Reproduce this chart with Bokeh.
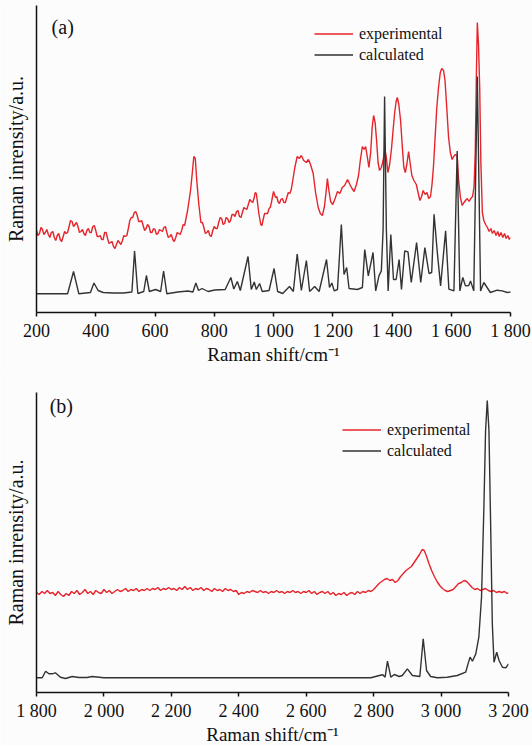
from bokeh.plotting import figure
from bokeh.layouts import column
from bokeh.models import Range1d, FixedTicker, Legend, LegendItem, Label
from bokeh.embed import file_html
from bokeh.resources import INLINE

# ---------------- data: panel (a) ----------------
exp_a = [(200, 82), (205, 77), (210, 79), (215, 85), (220, 83), (225, 78), (230, 80), (235, 83),
         (240, 78), (245, 75), (250, 80), (255, 81), (260, 75), (265, 72), (270, 77), (275, 79),
         (280, 73), (285, 71), (290, 76), (295, 81), (300, 79), (305, 80), (310, 86), (315, 92),
         (320, 91), (325, 86), (330, 88), (335, 90), (340, 86), (345, 80), (350, 81), (355, 83),
         (360, 79), (365, 77), (370, 82), (375, 84), (380, 80), (385, 80), (390, 86), (395, 87),
         (400, 82), (405, 76), (410, 76), (415, 77), (420, 73), (425, 73), (430, 80), (435, 80),
         (440, 74), (445, 69), (450, 70), (455, 71), (460, 66), (465, 64), (470, 68), (475, 72),
         (480, 70), (485, 68), (490, 72), (495, 77), (500, 76), (505, 77), (510, 84), (515, 92),
         (520, 95), (525, 95), (530, 100), (535, 101), (540, 97), (545, 91), (550, 91), (555, 92),
         (560, 87), (565, 82), (570, 84), (575, 88), (580, 86), (585, 80), (590, 80), (595, 84),
         (600, 83), (605, 78), (610, 79), (615, 83), (620, 82), (625, 81), (630, 85), (635, 86),
         (640, 80), (645, 75), (650, 76), (655, 78), (660, 73), (665, 71), (670, 75), (675, 80),
         (680, 79), (685, 78), (690, 82), (695, 88), (700, 87), (710, 102), (720, 122), (726, 140),
         (731, 156), (736, 154), (741, 132), (748, 108), (755, 90), (760, 90), (765, 85), (770, 79),
         (775, 80), (780, 82), (785, 77), (790, 76), (795, 82), (800, 86), (805, 84), (810, 84),
         (815, 90), (820, 95), (825, 94), (830, 88), (835, 89), (840, 95), (845, 94), (850, 90),
         (855, 92), (860, 98), (865, 98), (870, 96), (875, 101), (880, 102), (885, 96), (890, 95),
         (895, 100), (900, 105), (905, 104), (910, 103), (915, 108), (920, 113), (925, 111),
         (930, 110), (935, 115), (938, 120), (942, 119), (946, 110), (950, 100), (957, 88), (961, 87),
         (965, 93), (970, 99), (975, 99), (980, 99), (985, 104), (989, 105), (993, 110), (1000, 121),
         (1007, 115), (1011, 116), (1015, 111), (1020, 109), (1025, 113), (1030, 114), (1035, 110),
         (1040, 110), (1045, 115), (1050, 120), (1055, 119), (1060, 123), (1065, 132), (1072, 145),
         (1080, 156), (1087, 154), (1094, 157), (1102, 152), (1111, 150), (1118, 153), (1125, 148),
         (1134, 139), (1142, 120), (1151, 105), (1158, 99), (1165, 97), (1172, 106), (1178, 122),
         (1182, 134), (1187, 122), (1193, 111), (1200, 108), (1208, 114), (1216, 121), (1224, 119),
         (1232, 125), (1240, 127), (1250, 133), (1258, 128), (1265, 124), (1272, 121), (1280, 128),
         (1287, 137), (1293, 152), (1300, 166), (1306, 163), (1311, 166), (1317, 155), (1322, 145),
         (1328, 160), (1333, 185), (1338, 197), (1343, 190), (1348, 172), (1353, 150), (1358, 142),
         (1364, 145), (1370, 152), (1376, 163), (1381, 155), (1386, 140), (1392, 148), (1398, 163),
         (1403, 180), (1409, 200), (1414, 211), (1418, 215), (1423, 208), (1429, 192), (1435, 165),
         (1440, 145), (1445, 140), (1450, 148), (1456, 161), (1461, 150), (1467, 137), (1474, 132),
         (1482, 128), (1488, 120), (1494, 112), (1500, 116), (1505, 122), (1512, 118), (1518, 120),
         (1524, 114), (1530, 116), (1535, 128), (1540, 146), (1545, 172), (1551, 204), (1557, 225),
         (1563, 240), (1568, 244), (1574, 242), (1579, 232), (1585, 204), (1591, 175), (1597, 160),
         (1603, 153), (1608, 156), (1614, 158), (1620, 157), (1625, 132), (1631, 115), (1637, 107),
         (1643, 110), (1648, 112), (1654, 114), (1660, 111), (1666, 114), (1672, 116), (1677, 126),
         (1681, 160), (1685, 240), (1688, 290), (1692, 268), (1696, 225), (1700, 150), (1705, 100),
         (1710, 92), (1716, 88), (1722, 85), (1728, 81), (1734, 84), (1739, 79), (1745, 82),
         (1751, 77), (1757, 81), (1762, 76), (1768, 80), (1774, 75), (1780, 79), (1785, 74),
         (1791, 77), (1796, 73), (1800, 75)]

calc_a = [(200, 18.7), (305, 18.7), (325, 41), (343, 18.7), (382, 20), (394, 29.5), (408, 22),
          (425, 20), (459, 19.5), (494, 19.5), (522, 20.5), (531, 61.5), (542, 19), (562, 21),
          (571, 37), (581, 21), (602, 23), (619, 21), (629, 41.5), (640, 18.7), (677, 20.5),
          (711, 21.5), (728, 20.5), (738, 29.5), (747, 22), (759, 24), (779, 21), (802, 22.5),
          (837, 23), (856, 35), (866, 23.5), (878, 31), (888, 22), (914, 56), (925, 23), (935, 30.5),
          (942, 23), (953, 29), (962, 21), (985, 22), (1002, 44), (1014, 21), (1031, 19), (1054, 26),
          (1067, 21), (1080, 58.5), (1094, 22), (1111, 52), (1122, 21), (1139, 26), (1154, 21),
          (1179, 53), (1189, 25), (1197, 29.5), (1205, 21.6), (1216, 23), (1229, 88), (1238, 38),
          (1247, 45), (1255, 24), (1283, 23), (1300, 25), (1308, 63), (1320, 36.6), (1336, 60),
          (1345, 21.6), (1356, 36.6), (1364, 41.6), (1370, 83), (1375, 216), (1381, 83), (1387, 21.6),
          (1396, 78), (1405, 33), (1414, 33), (1424, 53), (1432, 23), (1443, 61.6), (1454, 60.6),
          (1465, 30), (1483, 70), (1497, 30), (1511, 65), (1525, 39), (1534, 40), (1542, 98.3),
          (1553, 60), (1564, 26.6), (1581, 81.6), (1592, 23.3), (1609, 21.6), (1620, 161.6),
          (1629, 21.6), (1639, 35), (1648, 26.6), (1659, 27), (1665, 31.6), (1676, 21.6), (1688, 236),
          (1699, 21.6), (1710, 30), (1732, 20), (1755, 22.3), (1772, 21.6), (1789, 20), (1803, 20.6)]

ticks_a = [200, 400, 600, 800, 1000, 1200, 1400, 1600, 1800]
tick_labels_a = ["200", "400", "600", "800", "1 000", "1 200", "1 400", "1 600", "1 800"]

# ---------------- data: panel (b) ----------------
exp_b = [(1800, 100), (1808, 98), (1816, 101), (1824, 99), (1832, 102), (1840, 99), (1848, 100),
         (1856, 97), (1864, 101), (1872, 98), (1880, 96), (1888, 99), (1896, 97), (1904, 101),
         (1912, 99), (1920, 102), (1928, 98), (1936, 100), (1944, 103), (1952, 99), (1960, 101),
         (1968, 98), (1976, 102), (1984, 100), (1992, 99), (2000, 103), (2008, 100), (2016, 102),
         (2024, 99), (2032, 101), (2040, 103), (2048, 101), (2056, 102), (2064, 104), (2072, 101),
         (2080, 103), (2088, 102), (2096, 104), (2104, 101), (2112, 103), (2120, 102), (2128, 104),
         (2136, 102), (2144, 104), (2152, 103), (2160, 105), (2168, 102), (2176, 104), (2184, 103),
         (2192, 105), (2200, 103), (2208, 104), (2216, 102), (2224, 105), (2232, 103), (2240, 106),
         (2248, 103), (2256, 105), (2264, 102), (2272, 104), (2280, 103), (2288, 105), (2296, 102),
         (2304, 104), (2312, 103), (2320, 101), (2328, 104), (2336, 102), (2344, 103), (2352, 101),
         (2360, 104), (2368, 102), (2376, 103), (2384, 101), (2392, 102), (2400, 98), (2408, 100),
         (2416, 99), (2424, 101), (2432, 100), (2440, 102), (2448, 101), (2456, 100), (2464, 102),
         (2472, 100), (2480, 101), (2488, 99), (2496, 101), (2504, 100), (2512, 102), (2520, 100),
         (2528, 101), (2536, 99), (2544, 101), (2552, 100), (2560, 102), (2568, 100), (2576, 101),
         (2584, 99), (2592, 101), (2600, 100), (2608, 102), (2616, 99), (2624, 101), (2632, 98),
         (2640, 100), (2648, 101), (2656, 99), (2664, 101), (2672, 98), (2680, 100), (2688, 97),
         (2696, 99), (2704, 98), (2712, 100), (2720, 97), (2728, 99), (2736, 100), (2744, 98),
         (2752, 101), (2760, 99), (2768, 101), (2776, 100), (2784, 102), (2792, 101), (2800, 103),
         (2808, 106), (2816, 109), (2824, 111), (2832, 113), (2840, 114), (2848, 112), (2856, 113),
         (2864, 110), (2872, 112), (2880, 116), (2888, 119), (2896, 122), (2904, 124), (2912, 126),
         (2920, 130), (2928, 134), (2936, 138), (2944, 143), (2950, 142), (2956, 137), (2964, 129),
         (2972, 122), (2980, 116), (2988, 111), (2996, 107), (3004, 104), (3012, 102), (3020, 101),
         (3028, 102), (3036, 103), (3044, 106), (3052, 109), (3060, 110), (3068, 112), (3076, 111),
         (3084, 108), (3092, 105), (3100, 103), (3108, 104), (3116, 102), (3124, 103), (3132, 104),
         (3140, 102), (3148, 101), (3156, 102), (3164, 100), (3172, 101), (3180, 100), (3188, 101),
         (3196, 99), (3200, 100)]

calc_b = [(1800, 14.7), (1817, 14.7), (1827, 21.3), (1837, 18.7), (1846, 18.7), (1856, 19.7),
          (1871, 15.3), (1886, 14), (1906, 16), (1926, 15), (1950, 15), (1965, 16), (2000, 14.7),
          (2792, 14.7), (2817, 17), (2827, 17.7), (2834, 15.3), (2841, 31.3), (2851, 15.3),
          (2861, 18), (2876, 16), (2885, 17), (2900, 23.6), (2915, 17), (2937, 16), (2947, 53.7),
          (2957, 22), (2969, 16), (2989, 14.7), (3018, 15.3), (3048, 17), (3073, 20.3), (3080, 28.6),
          (3086, 35.3), (3093, 31.3), (3103, 38.6), (3112, 55.3), (3120, 95.3), (3127, 185),
          (3132, 262), (3137, 292), (3142, 262), (3147, 168.6), (3152, 68.6), (3157, 30.3),
          (3165, 40.3), (3172, 32), (3182, 25.3), (3192, 24.6), (3200, 28.6)]

ticks_b = [1800, 2000, 2200, 2400, 2600, 2800, 3000, 3200]
tick_labels_b = ["1 800", "2 000", "2 200", "2 400", "2 600", "2 800", "3 000", "3 200"]

series_names = ["experimental", "calculated"]
panel_tags = ["(a)", "(b)"]

FONT = "Liberation Serif, Times New Roman, serif"
RED = "#e5242b"
DARK = "#333333"
BG = "#fcfcfc"
INK = "#111111"


def make_panel(exp, calc, xr, yr, ticks, labels, tag, tag_pos, legend_loc,
               fw, fh, border_top, border_right, border_bottom):
    p = figure(frame_width=fw, frame_height=fh, x_range=Range1d(*xr), y_range=Range1d(*yr),
               output_backend="svg", toolbar_location=None,
               min_border_left=36, min_border_right=border_right,
               min_border_top=border_top, min_border_bottom=border_bottom)
    p.background_fill_color = BG
    p.border_fill_color = BG
    p.outline_line_color = None
    p.grid.visible = False

    r1 = p.line([a for a, b in exp], [b for a, b in exp], line_color=RED, line_width=1.4)
    r2 = p.line([a for a, b in calc], [b for a, b in calc], line_color=DARK, line_width=1.4)

    xa = p.xaxis[0]
    xa.ticker = FixedTicker(ticks=ticks)
    xa.major_label_overrides = {t: l for t, l in zip(ticks, labels)}
    xa.minor_tick_line_color = None
    xa.major_tick_in = 0
    xa.major_tick_out = 4
    xa.axis_line_width = 1.5
    xa.major_tick_line_width = 1.5
    xa.axis_line_color = INK
    xa.major_tick_line_color = INK
    xa.major_label_text_font = FONT
    xa.major_label_text_font_size = "18px"
    xa.major_label_text_color = INK
    xa.major_label_text_line_height = 1.0
    xa.major_label_standoff = 4
    xa.axis_label = "Raman shift/cm\u207b\u00b9"
    xa.axis_label_text_font = FONT
    xa.axis_label_text_font_size = "19px"
    xa.axis_label_text_font_style = "normal"
    xa.axis_label_text_color = INK
    xa.axis_label_text_line_height = 1.0
    xa.axis_label_standoff = 0

    ya = p.yaxis[0]
    ya.ticker = FixedTicker(ticks=[])
    ya.major_tick_line_color = None
    ya.minor_tick_line_color = None
    ya.major_label_text_font_size = "0px"
    ya.major_label_standoff = 0
    ya.axis_line_width = 1.5
    ya.axis_line_color = INK
    ya.axis_label = "Raman inrensity/a.u."
    ya.axis_label_text_font = FONT
    ya.axis_label_text_font_size = "20px"
    ya.axis_label_text_font_style = "normal"
    ya.axis_label_text_color = INK
    ya.axis_label_text_line_height = 1.0
    ya.axis_label_standoff = 10

    legend = Legend(items=[LegendItem(label=series_names[0], renderers=[r1]),
                           LegendItem(label=series_names[1], renderers=[r2])],
                    location=legend_loc, orientation="vertical",
                    glyph_width=39, glyph_height=21, label_height=21, label_standoff=6,
                    spacing=0, padding=0, margin=0,
                    border_line_color=None, background_fill_alpha=0,
                    label_text_font=FONT, label_text_font_size="16px",
                    label_text_color=INK)
    p.add_layout(legend)

    p.add_layout(Label(x=tag_pos[0], y=tag_pos[1], text=tag, text_font=FONT,
                       text_font_size="20px", text_baseline="middle", text_align="left",
                       text_color=INK))
    return p


p1 = make_panel(exp_a, calc_a, (200, 1800), (0, 307), ticks_a, tick_labels_a, panel_tags[0],
                (251, 285.5), (278, 247), 474, 307, 5, 22, 56)
p2 = make_panel(exp_b, calc_b, (1800, 3200), (0, 300), ticks_b, tick_labels_b, panel_tags[1],
                (1839, 287), (306, 231), 472, 300, 24, 24, 53)

layout = column(p1, p2, spacing=0)

with open("out.html", "w") as f:
    f.write(file_html(layout, INLINE))
